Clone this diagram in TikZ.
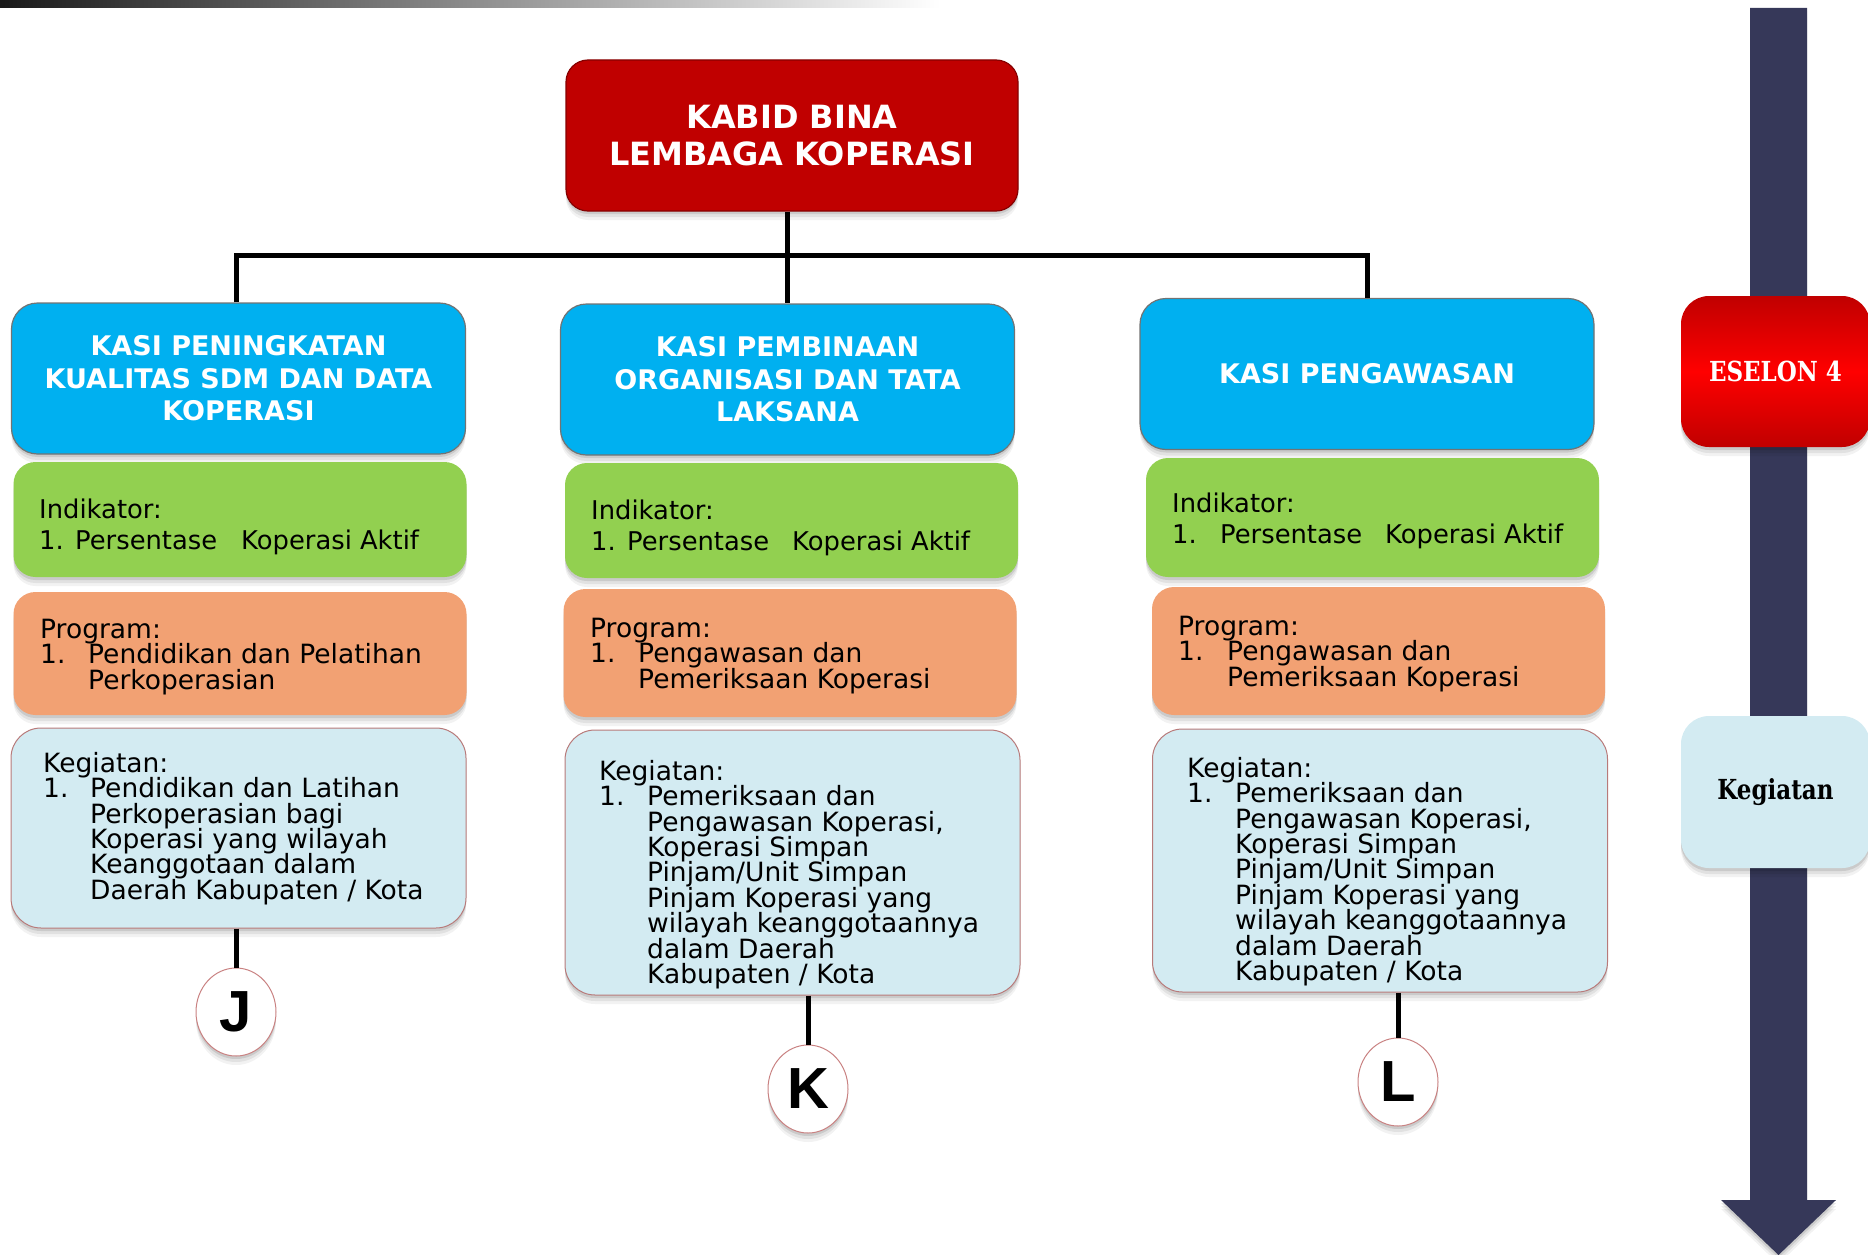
\documentclass[tikz,border=0pt]{standalone}
\usepackage{graphicx}
\usepackage{fontspec}
\setmainfont{DejaVu Sans}
\newfontfamily\serifbf{DejaVu Serif}
\newfontfamily\letterfont{Liberation Sans}
\usetikzlibrary{shadows,shapes.geometric,calc}
\definecolor{kred}{HTML}{C00000}
\definecolor{kblue}{HTML}{00B0F0}
\definecolor{kgreen}{HTML}{92D050}
\definecolor{korange}{HTML}{F2A173}
\definecolor{klight}{HTML}{D3EBF2}
\definecolor{knavy}{HTML}{363859}
\definecolor{kbright}{HTML}{FF0000}
\newcommand\headfont{\bfseries\fontsize{27}{32.5}\selectfont}
\newcommand\kabidfont{\bfseries\fontsize{32}{37}\selectfont}
\newcommand\indfont{\fontsize{25.8}{31}\selectfont\lineskiplimit=-100pt\lineskip=0pt}
\newcommand\bodyfont{\fontsize{26.5}{25.4}\selectfont\lineskiplimit=-100pt\lineskip=0pt}
\newcommand\sidefont{\serifbf\bfseries\fontsize{23}{23}\selectfont}
\newcommand\circfont{\letterfont\bfseries\fontsize{58}{58}\selectfont}
\begin{document}
\begin{tikzpicture}[x=1pt,y=-1pt,
  softshadow/.style={general shadow={fill=black,opacity=.10,shadow yshift=-3pt},
                     general shadow={fill=black,opacity=.07,shadow yshift=-6pt},
                     general shadow={fill=black,opacity=.05,shadow yshift=-9pt}},
  kabidbox/.style={draw=kred!70!black, line width=1.2pt, fill=kred, rounded corners=22pt,
                   minimum width=452pt, minimum height=151pt, inner sep=0pt,
                   text=white, font=\kabidfont, align=center, softshadow},
  sbox/.style={draw=black!55, line width=1.2pt, fill=kblue, rounded corners=26pt,
               minimum width=454pt, minimum height=151pt, inner sep=0pt,
               text=white, font=\headfont, align=center, softshadow},
  gbox/.style={fill=kgreen, rounded corners=22pt, minimum width=453pt, inner sep=0pt, softshadow},
  obox/.style={fill=korange, rounded corners=22pt, minimum width=453pt, inner sep=0pt, softshadow},
  lbox/.style={fill=klight, draw=gray!70!red!80, line width=1pt, rounded corners=30pt,
               minimum width=455pt, inner sep=0pt, softshadow},
  indtxt/.style={anchor=north west, inner sep=0pt, align=left, font=\indfont},
  bodytxt/.style={anchor=north west, inner sep=0pt, align=left, font=\bodyfont},
  circ/.style={ellipse, draw=gray!60!red!70, line width=1pt, fill=white,
               minimum width=80pt, minimum height=88pt, inner sep=0pt,
               font=\circfont, softshadow},
  eselonbox/.style={rounded corners=28pt, minimum width=189pt, minimum height=151pt,
                    inner sep=0pt, top color=kred, bottom color=kred, middle color=kbright,
                    text=white, font=\sidefont, softshadow},
  sidebox/.style={rounded corners=28pt, minimum width=189pt, minimum height=152pt,
                  inner sep=0pt, fill=klight, text=black, font=\sidefont, softshadow},
  conn/.style={draw=black, line width=5pt}]
\useasboundingbox (0,0) rectangle (1868,1255);

% top gradient bar
\shade[left color=black!90, right color=white] (0,0) rectangle (940,8);

% time arrow
\fill[knavy, softshadow] (1750,8) -- (1807,8) -- (1807,1200) -- (1836,1200)
  -- (1778.5,1255) -- (1721,1200) -- (1750,1200) -- cycle;

% head
\node[kabidbox] (kabid) at (792,135.5) {KABID BINA\\LEMBAGA KOPERASI};

% kasi boxes
\node[sbox] (s1) at (238.5,378.5) {KASI PENINGKATAN\\KUALITAS SDM DAN DATA\\KOPERASI};
\node[sbox] (s2) at (787.5,379.5) {KASI PEMBINAAN\\ORGANISASI DAN TATA\\LAKSANA};
\node[sbox] (s3) at (1367,374) {KASI PENGAWASAN};

% indikator boxes
\node[gbox, minimum height=115pt] (i1) at (240,519.5) {};
\node[gbox, minimum height=115pt] (i2) at (791.5,520.5) {};
\node[gbox, minimum height=119pt] (i3) at (1372.5,517.5) {};

% program boxes
\node[obox, minimum height=123pt] (p1) at (240,653.5) {};
\node[obox, minimum height=128pt] (p2) at (790,653) {};
\node[obox, minimum height=128pt] (p3) at (1378.5,651) {};

% kegiatan boxes
\node[lbox, minimum height=200pt] (k1) at (238.5,828) {};
\node[lbox, minimum height=265pt] (k2) at (792.5,862.5) {};
\node[lbox, minimum height=263pt] (k3) at (1380,860.5) {};

% texts
\node[indtxt] (ti1) at (39,497) {\rule{0pt}{21pt}Indikator:\\\makebox[36pt][l]{1.}Persentase\hspace{24pt}Koperasi Aktif};
\node[indtxt] (ti2) at (591,498) {\rule{0pt}{21pt}Indikator:\\\makebox[36pt][l]{1.}Persentase\hspace{23pt}Koperasi Aktif};
\node[indtxt] (ti3) at (1172,491) {\rule{0pt}{21pt}Indikator:\\\makebox[48pt][l]{1.}Persentase\hspace{23pt}Koperasi Aktif};

\node[bodytxt] (tp1) at (40,617) {\rule{0pt}{21pt}Program:\\\makebox[48pt][l]{1.}Pendidikan dan Pelatihan\\\hspace*{48pt}Perkoperasian};
\node[bodytxt] (tp2) at (590,616) {\rule{0pt}{21pt}Program:\\\makebox[48pt][l]{1.}Pengawasan dan\\\hspace*{48pt}Pemeriksaan Koperasi};
\node[bodytxt] (tp3) at (1178,614) {\rule{0pt}{21pt}Program:\\\makebox[49pt][l]{1.}Pengawasan dan\\\hspace*{49pt}Pemeriksaan Koperasi};

\node[bodytxt] (tk1) at (43,751) {\rule{0pt}{21pt}Kegiatan:\\\makebox[47pt][l]{1.}Pendidikan dan Latihan\\\hspace*{47pt}Perkoperasian bagi\\\hspace*{47pt}Koperasi yang wilayah\\\hspace*{47pt}Keanggotaan dalam\\\hspace*{47pt}Daerah Kabupaten / Kota};
\node[bodytxt] (tk2) at (599,759) {\rule{0pt}{21pt}Kegiatan:\\\makebox[48pt][l]{1.}Pemeriksaan dan\\\hspace*{48pt}Pengawasan Koperasi,\\\hspace*{48pt}Koperasi Simpan\\\hspace*{48pt}Pinjam/Unit Simpan\\\hspace*{48pt}Pinjam Koperasi yang\\\hspace*{48pt}wilayah keanggotaannya\\\hspace*{48pt}dalam Daerah\\\hspace*{48pt}Kabupaten / Kota};
\node[bodytxt] (tk3) at (1187,756) {\rule{0pt}{21pt}Kegiatan:\\\makebox[48pt][l]{1.}Pemeriksaan dan\\\hspace*{48pt}Pengawasan Koperasi,\\\hspace*{48pt}Koperasi Simpan\\\hspace*{48pt}Pinjam/Unit Simpan\\\hspace*{48pt}Pinjam Koperasi yang\\\hspace*{48pt}wilayah keanggotaannya\\\hspace*{48pt}dalam Daerah\\\hspace*{48pt}Kabupaten / Kota};

% connector circles
\node[circ] (c1) at (236,1012) {J};
\node[circ] (c2) at (808,1089) {K};
\node[circ] (c3) at (1398,1082) {L};

% side labels
\node[eselonbox] (eselon) at (1775.5,371.5) {\scalebox{1}[1.2]{ESELON 4}};
\node[sidebox] (keg) at (1775.5,792) {\scalebox{1}[1.2]{Kegiatan}};

% connectors
\coordinate (bus) at (787.5,255.5);
\draw[conn] (kabid.south -| s2.north) -- (s2.north);
\draw[conn] (s1.north -| c1.north) |- (bus) -| (s3.north);
\draw[conn] (k1.south -| c1.north) -- (c1.north);
\draw[conn] (k2.south -| c2.north) -- (c2.north);
\draw[conn] (k3.south -| c3.north) -- (c3.north);
\end{tikzpicture}
\end{document}
